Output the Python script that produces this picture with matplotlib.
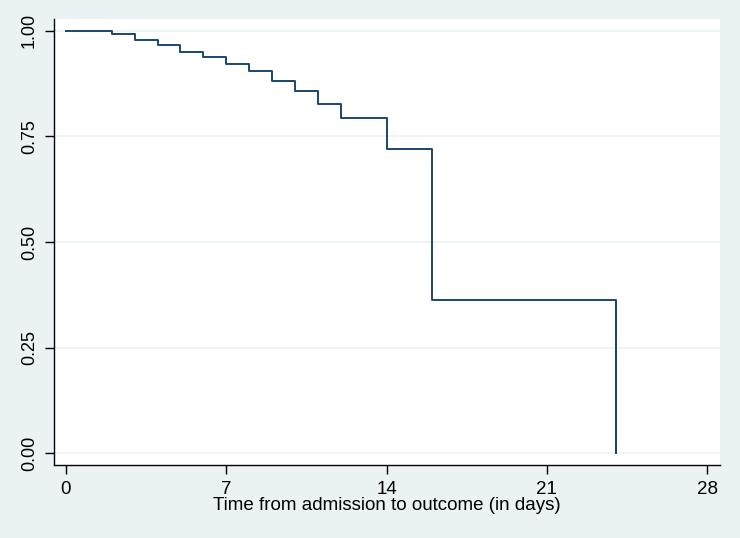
import numpy as np
import matplotlib.pyplot as plt

plt.rcParams['font.family'] = ['Liberation Sans', 'DejaVu Sans']

# Kaplan-Meier estimate
days = [0, 2, 3, 4, 5, 6, 7, 8, 9, 10, 11, 12, 14, 16, 24]
surv = [1.0, 0.992, 0.979, 0.966, 0.949, 0.937, 0.922, 0.904, 0.881, 0.857, 0.826, 0.794, 0.721, 0.362, 0.0]

x_ticks = [0, 7, 14, 21, 28]
y_ticks = [0.0, 0.25, 0.5, 0.75, 1.0]

bg = '#EAF2F3'
navy = '#1A476F'

fig = plt.figure(figsize=(7.4, 5.38), dpi=100, facecolor=bg)
ax = fig.add_axes([0.073, 0.1357, 0.9, 0.829])
ax.set_facecolor('white')

ax.step(days, surv, where='post', color=navy, lw=1.4)
ax.vlines(days[-1], surv[-1], surv[-2], color=navy, lw=1.4)

ax.set_xlim(-0.52, 28.56)
ax.set_ylim(-0.028, 1.028)
ax.set_xticks(x_ticks)
ax.set_xticklabels([str(t) for t in x_ticks], family=['Liberation Sans Narrow', 'Liberation Sans'], fontsize=13.5)
ax.set_yticks(y_ticks)
ax.set_yticklabels([f"{v:.2f}" for v in y_ticks], rotation=90, va='center', fontsize=13)
ax.grid(axis='y', color=bg, lw=1.2)
ax.set_axisbelow(True)

for s in ['top', 'right']:
    ax.spines[s].set_visible(False)
for s in ['left', 'bottom']:
    ax.spines[s].set_linewidth(1.0)
ax.tick_params(direction='out', length=6.5, width=1)
ax.tick_params(axis='x', pad=5)
ax.tick_params(axis='y', pad=5)
ax.set_xlabel("Time from admission to outcome (in days)", fontsize=13.5, labelpad=-1)

fig.savefig("out.png", dpi=100, facecolor=bg)
